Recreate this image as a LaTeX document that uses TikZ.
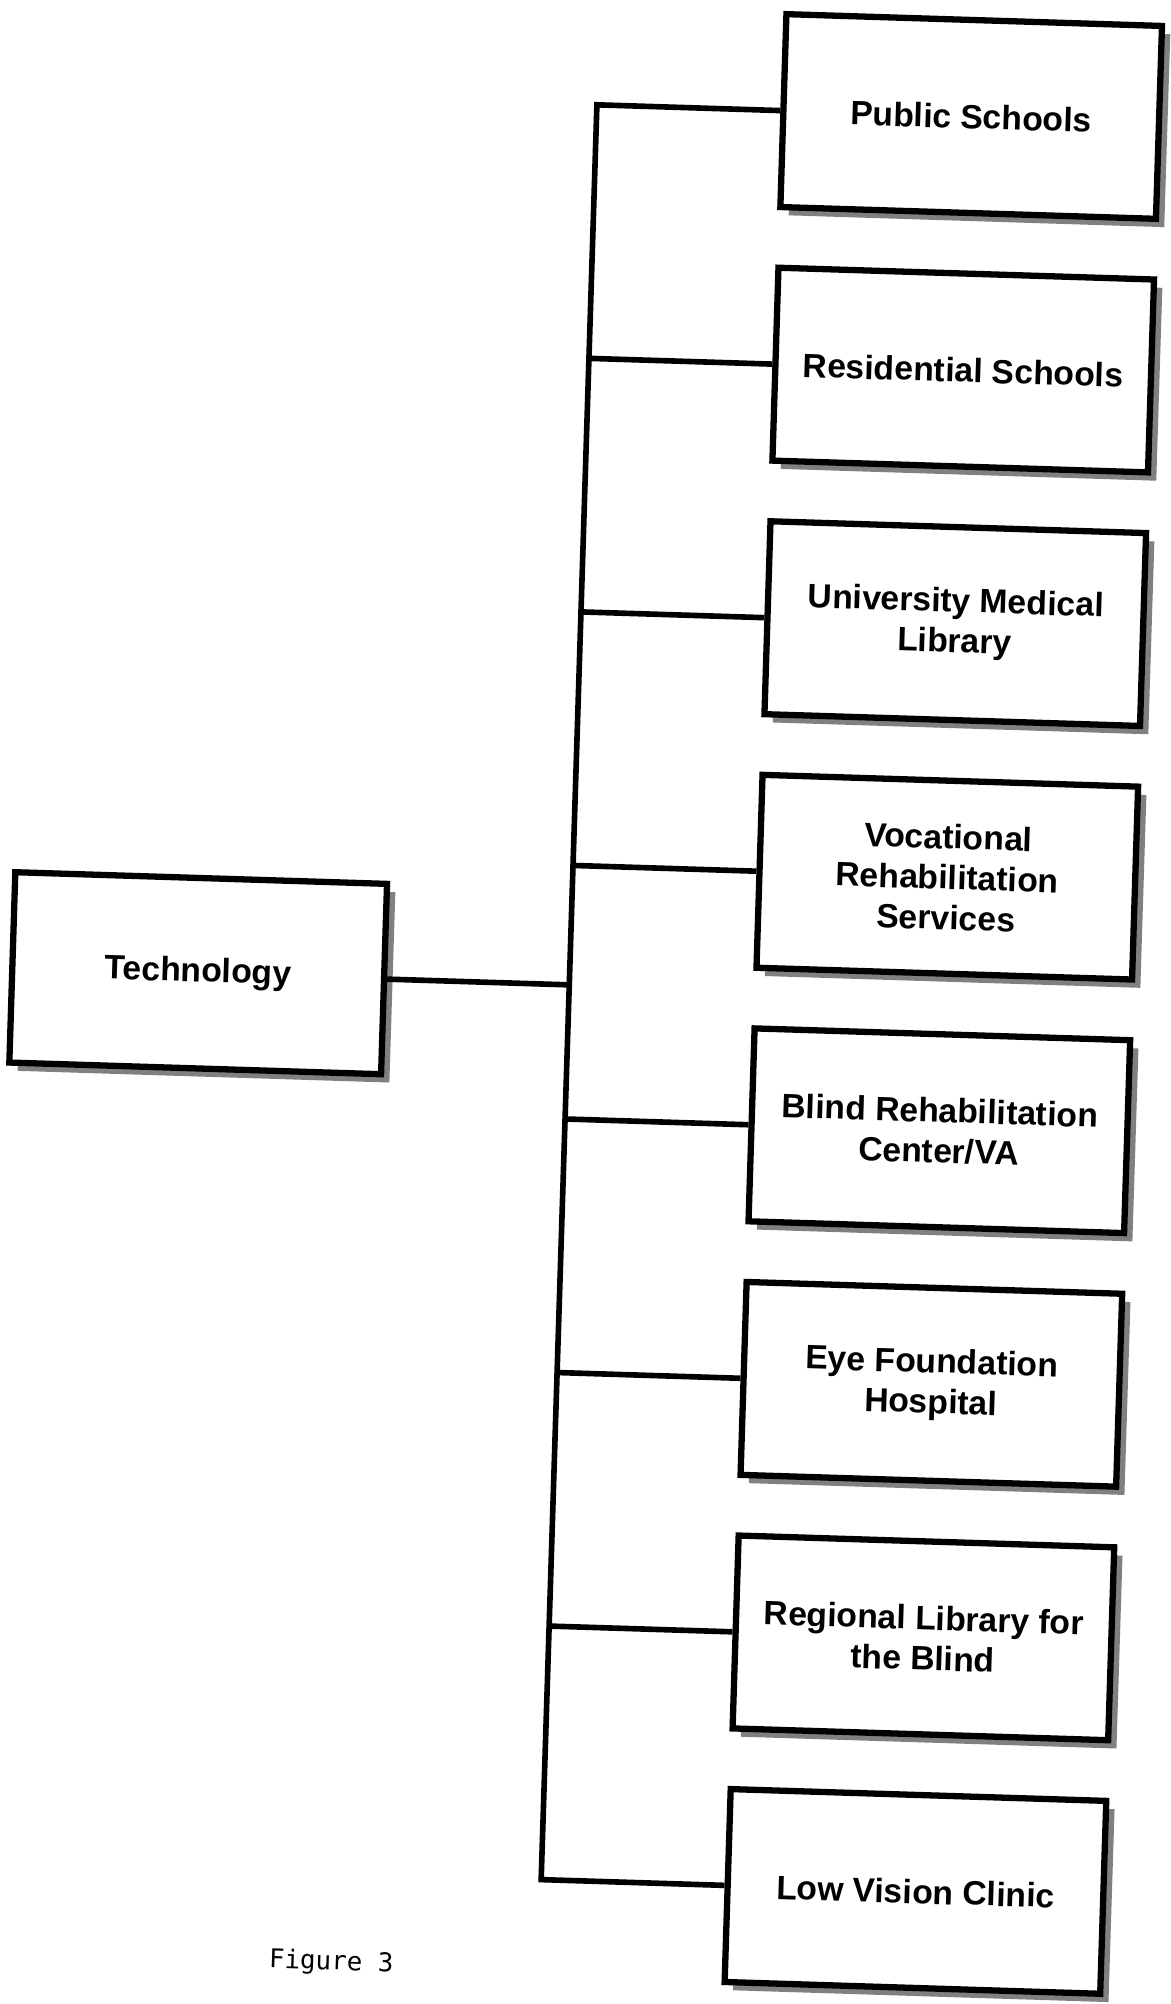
\documentclass[tikz,border=0pt]{standalone}
\usepackage{fontspec}
\setmainfont{Liberation Sans}
\newfontfamily\captionfont{DejaVu Sans Mono}
\usetikzlibrary{positioning,shadows}

\begin{document}
\begin{tikzpicture}[
  font=\bfseries\fontsize{15}{18}\selectfont,
  agency/.style={
    rectangle,
    draw=black,
    line width=2.8pt,
    fill=white,
    align=center,
    minimum width=5.88cm,
    minimum height=3.02cm,
    drop shadow={shadow xshift=0.13cm, shadow yshift=-0.13cm, fill=black!50, opacity=1}
  },
  link/.style={line width=2.5pt, draw=black, line join=miter}
]
  \useasboundingbox (-9.16,-15.68) rectangle (9.16,15.68);
  \begin{scope}[rotate=-1.8, transform shape]
  \node[agency, minimum width=5.82cm, minimum height=2.98cm] (tech) at (-6.07,0.26) {Technology};

  \node[agency] (public)     at (5.6,14.04)  {Public Schools};
  \node[agency] (residential) at (5.6,10.07) {Residential Schools};
  \node[agency] (medical)    at (5.6,6.10)   {University Medical\\Library};
  \node[agency] (vocational) at (5.6,2.13)   {Vocational\\Rehabilitation\\Services};
  \node[agency] (blindva)    at (5.6,-1.84)  {Blind Rehabilitation\\Center/VA};
  \node[agency] (eye)        at (5.6,-5.81)  {Eye Foundation\\Hospital};
  \node[agency] (regional)   at (5.6,-9.78)  {Regional Library for\\the Blind};
  \node[agency] (lowvision)  at (5.6,-13.75) {Low Vision Clinic};

  \coordinate (bustop) at (-0.26,14.04);
  \coordinate (bus2)   at (-0.26,10.07);
  \coordinate (bus3)   at (-0.26,6.10);
  \coordinate (bus4)   at (-0.26,2.13);
  \coordinate (bustech) at (-0.26,0.26);
  \coordinate (bus5)   at (-0.26,-1.84);
  \coordinate (bus6)   at (-0.26,-5.81);
  \coordinate (bus7)   at (-0.26,-9.78);
  \coordinate (busbot) at (-0.26,-13.75);

  \draw[link] (public.west) -- (bustop) -- (busbot) -- (lowvision.west);
  \draw[link] (tech.east) -- (bustech);
  \draw[link] (bus2) -- (residential.west);
  \draw[link] (bus3) -- (medical.west);
  \draw[link] (bus4) -- (vocational.west);
  \draw[link] (bus5) -- (blindva.west);
  \draw[link] (bus6) -- (eye.west);
  \draw[link] (bus7) -- (regional.west);

  \node[font=\captionfont\fontsize{11.5}{13}\selectfont, anchor=base west] (caption) at (-4.6,-15.26) {Figure 3};
  \end{scope}
\end{tikzpicture}
\end{document}
